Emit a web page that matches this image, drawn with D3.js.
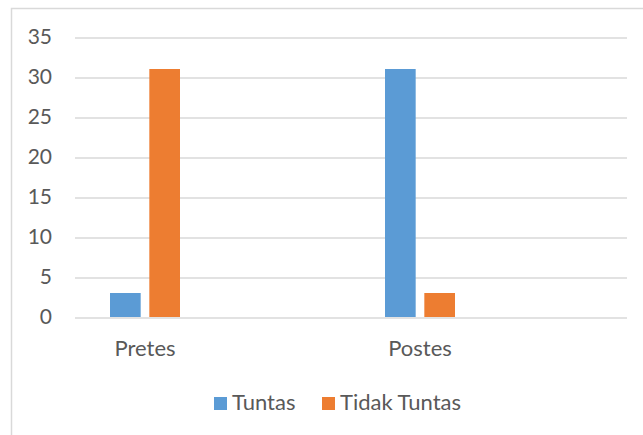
<!DOCTYPE html>
<html>
<head>
<meta charset="utf-8">
<script src="https://cdn.jsdelivr.net/npm/d3@7"></script>
<style>
  html, body { margin: 0; padding: 0; background: #fff; }
  svg { display: block; }
  text { font-family: Lato, "Open Sans", sans-serif; fill: #595959; }
</style>
</head>
<body>
<svg id="chart" width="643" height="435"></svg>
<script>
// Categories, series and values
const categories = ["Pretes", "Postes"];
const seriesNames = ["Tuntas", "Tidak Tuntas"];
const tuntas = [3, 31];
const tidakTuntas = [31, 3];
const seriesColors = ["#5B9BD5", "#ED7D31"];
const yTicks = [0, 5, 10, 15, 20, 25, 30, 35];

const seriesValues = [tuntas, tidakTuntas];
const rows = categories.map((c, i) => ({
  category: c,
  values: seriesNames.map((s, j) => ({ series: s, value: seriesValues[j][i], color: seriesColors[j] }))
}));

const W = 643, H = 435;
const plot = { left: 75, right: 627, top: 37, bottom: 317 };

const svg = d3.select("#chart");

// background and chart-area frame
svg.append("rect").attr("width", W).attr("height", H).attr("fill", "#fff");
svg.append("rect")
  .attr("x", 11.5).attr("y", 8.5)
  .attr("width", W + 20).attr("height", H + 20)
  .attr("fill", "none").attr("stroke", "#d9d9d9").attr("stroke-width", 1.5);

const y = d3.scaleLinear().domain([0, 35]).range([plot.bottom, plot.top]);

// group centres for the two categories
const x = d3.scalePoint().domain(categories).range([145, 420]);
const inner = d3.scaleBand().domain(seriesNames).range([-35, 35]).paddingInner(0.22);

// gridlines and value labels
const yAxis = svg.append("g")
  .attr("transform", `translate(${plot.left},0)`)
  .call(d3.axisLeft(y).tickValues(yTicks).tickSize(-(plot.right - plot.left)).tickPadding(23).tickFormat(d3.format("d")));
yAxis.select(".domain").remove();
yAxis.selectAll(".tick line").attr("stroke", "#d9d9d9").attr("stroke-width", 1.3)
  .attr("transform", "translate(0,0.5)");
yAxis.selectAll(".tick text").attr("font-size", 21).attr("fill", "#595959")
  .style("font-family", "Lato, 'Open Sans', sans-serif");

// bars
const groups = svg.append("g").selectAll("g").data(rows).join("g")
  .attr("transform", d => `translate(${x(d.category)},0)`);
groups.selectAll("rect").data(d => d.values).join("rect")
  .attr("x", d => inner(d.series))
  .attr("width", inner.bandwidth())
  .attr("y", d => y(d.value))
  .attr("height", d => y(0) - y(d.value))
  .attr("fill", d => d.color);

// category labels
svg.append("g").selectAll("text").data(categories).join("text")
  .attr("x", d => x(d)).attr("y", 356)
  .attr("text-anchor", "middle")
  .attr("font-size", 22)
  .text(d => d);

// legend
const legendItems = [
  { name: seriesNames[0], color: seriesColors[0], x: 214 },
  { name: seriesNames[1], color: seriesColors[1], x: 322 }
];
const lg = svg.append("g").selectAll("g").data(legendItems).join("g")
  .attr("transform", d => `translate(${d.x},397)`);
lg.append("rect").attr("width", 13).attr("height", 13).attr("fill", d => d.color);
lg.append("text").attr("x", 18).attr("y", 13).attr("font-size", 22).text(d => d.name);
</script>
</body>
</html>
